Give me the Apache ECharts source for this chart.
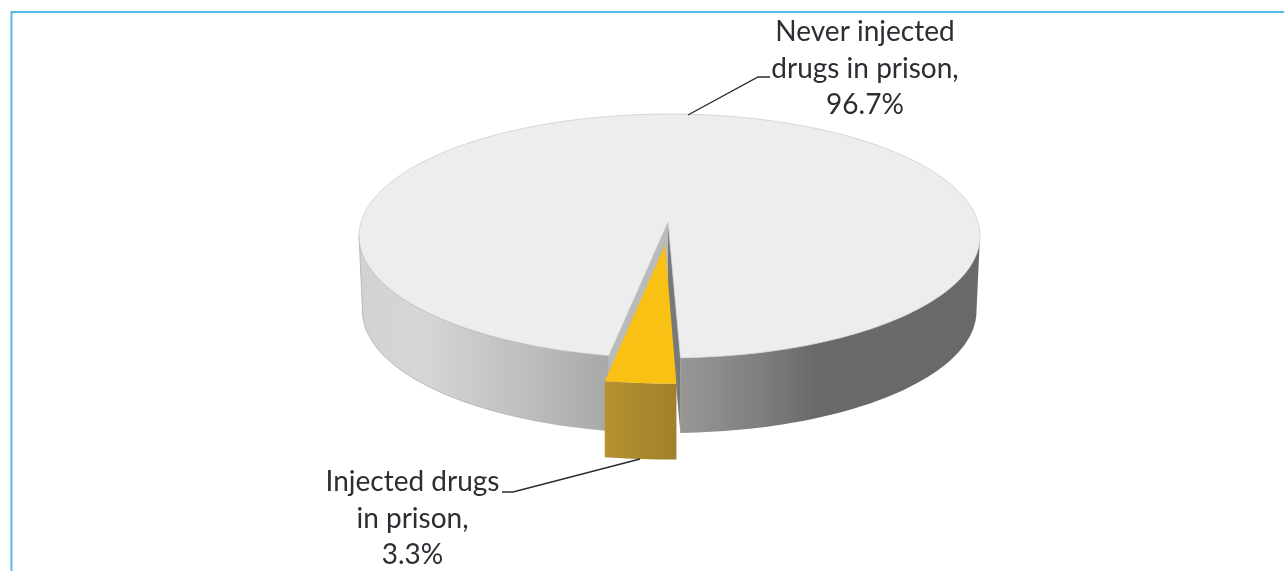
<!DOCTYPE html>
<html><head><meta charset="utf-8">
<style>html,body{margin:0;padding:0;background:#fff}#c{width:1284px;height:571px}</style>
<script src="https://cdn.jsdelivr.net/npm/echarts@6/dist/echarts.min.js"></script>
</head><body><div id="c"></div>
<script>
var categories = ['Never injected drugs in prison', 'Injected drugs in prison'];
var values = [96.7, 3.3];
var labelLines = [['Never injected', 'drugs in prison,', '96.7%'], ['Injected drugs', 'in prison,', '3.3%']];
var labelCenters = [[865, 32], [412.5, 482]];
var leaderLines = [[[688,115],[758,77],[770,77]], [[640,459],[513,492],[502,492]]];

var C = {cx:669.5, cy:236, rx:310.5, rxBottom:307, ry:122, h:75, apex:[668,222], explode:[-4,25.5], tipOffset:[-3,23], sliceH:76, skew:0.12, frontEnd:1.8, sideA:83.2};
var FONT = 'Lato, "Open Sans", sans-serif';
function rad(d){return d*Math.PI/180;}
function rim(a, ox, oy, rx){
  var A = rad(a), t = A + C.skew*Math.sin(A);
  return [C.cx + (rx||C.rx)*Math.sin(t) + (ox||0), C.cy + C.ry*Math.cos(t) + (oy||0)];
}
function arc(a0, a1, ox, oy, rx){
  var n = Math.max(2, Math.ceil(Math.abs(a1-a0)/1.5)), p = [];
  for (var i=0;i<=n;i++) p.push(rim(a0+(a1-a0)*i/n, ox, oy, rx));
  return p;
}
function poly(points, style, z){ return {type:'polygon', shape:{points:points}, style:style, z2:z||0}; }
function grad(stops){ return new echarts.graphic.LinearGradient(0,0,1,0,stops.map(function(s){return {offset:s[0],color:s[1]};})); }

function renderPie(params, api){
  if (params.dataIndex !== 0) return null;
  var total = values[0]+values[1];
  var sweep = values[1]/total*360;
  var endA = C.frontEnd, startA = endA - sweep;
  var ch = [];
  var stroke = '#c0c2c2';
  // outer wall, left of the wedge
  var lTop = arc(startA, -C.sideA), lBot = arc(-C.sideA, startA, 0, C.h, C.rxBottom);
  ch.push(poly(lTop.concat(lBot), {fill:grad([[0,'#d2d2d2'],[0.25,'#d6d6d6'],[0.65,'#bfbfbf'],[1,'#a8a8a8']]), stroke:'#a9a9a9', lineWidth:0.7}));
  // outer wall, right of the wedge
  var rTop = arc(endA, C.sideA), rBot = arc(C.sideA, endA, 0, C.h, C.rxBottom);
  ch.push(poly(rTop.concat(rBot), {fill:grad([[0,'#979797'],[0.24,'#808282'],[0.45,'#6a6a6a'],[1,'#696969']])}));
  // cut faces of the main slice, seen through the gap
  var rs = rim(startA), re = rim(endA), ap = C.apex;
  ch.push(poly([ap, rs, [rs[0],rs[1]+C.h], [ap[0],ap[1]+C.h]], {fill:'#b9baba'}));
  ch.push(poly([ap, re, [re[0],re[1]+C.h], [ap[0],ap[1]+C.h]], {fill:'#777878'}));
  // top of the main slice
  ch.push(poly([ap].concat(arc(endA, startA+360)), {fill:'#eceeee', stroke:stroke, lineWidth:0.6}));
  // exploded slice
  var ox=C.explode[0], oy=C.explode[1];
  var fTop = arc(startA, endA, ox, oy), fBot = arc(endA, startA, ox, oy+C.sliceH);
  ch.push(poly(fTop.concat(fBot), {fill:grad([[0,'#b5912f'],[1,'#a0802c']])}));
  ch.push(poly([[ap[0]+C.tipOffset[0],ap[1]+C.tipOffset[1]]].concat(fTop), {fill:'#f9c114'}));
  // leader lines and labels
  leaderLines.forEach(function(l){
    ch.push({type:'polyline', shape:{points:l}, style:{stroke:'#2b2b2b', lineWidth:1.4, fill:null}, z2:5});
  });
  labelLines.forEach(function(lines,i){
    lines.forEach(function(t,j){
      ch.push({type:'text', z2:6, style:{text:t, x:labelCenters[i][0], y:labelCenters[i][1]+j*36.5, align:'center', verticalAlign:'middle', font:'28px '+FONT, fill:'#2b2f33'}});
    });
  });
  // panel frame
  ch.push({type:'polyline', shape:{points:[[11.5,571],[11.5,12],[1284,12]]}, style:{stroke:'#56b9e6', lineWidth:2, fill:null}, z2:7});
  return {type:'group', children:ch};
}
var chart = echarts.init(document.getElementById('c'), null, {renderer:'canvas'});
chart.setOption({
  animation:false,
  backgroundColor:'#ffffff',
  series:[{type:'custom', coordinateSystem:'none', renderItem:renderPie, silent:true,
    data:categories.map(function(n,i){return {name:n, value:values[i]};})}]
});
</script></body></html>
